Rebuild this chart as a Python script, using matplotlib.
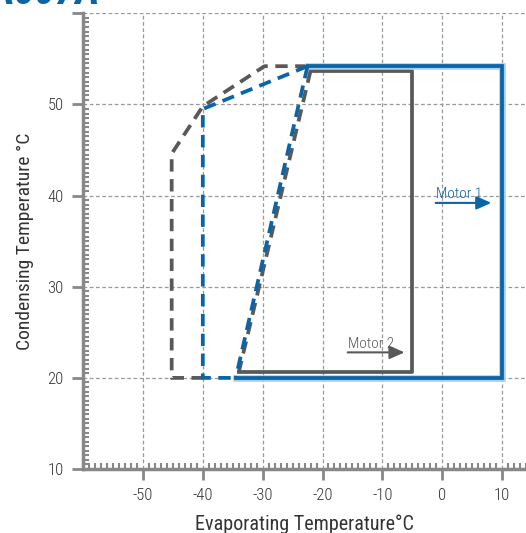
import matplotlib
matplotlib.use("Agg")
import matplotlib.pyplot as plt
from matplotlib.ticker import MultipleLocator

plt.rcParams['font.family'] = ['Roboto Condensed', 'Liberation Sans Narrow', 'DejaVu Sans']
plt.rcParams['font.stretch'] = 'condensed'
plt.rcParams['font.weight'] = 'light'
plt.rcParams['axes.unicode_minus'] = False

# envelope data (evaporating T, condensing T)
motor1_solid_x = [-34.5, 10, 10, -22.5]
motor1_solid_y = [20, 20, 54.2, 54.2]
motor1_dash_x = [-22.5, -34.5]
motor1_dash_y = [54.2, 20]
motor1_dash2_x = [-22.5, -40, -40, -34.5]
motor1_dash2_y = [54.2, 49.5, 20, 20]

motor2_solid_x = [-22, -5, -5, -34]
motor2_solid_y = [53.7, 53.7, 20.6, 20.6]
motor2_dash_x = [-22.5, -29.7, -40, -45.2, -45.2, -40]
motor2_dash_y = [54.2, 54.2, 49.8, 44.6, 20, 20]
motor2_dash2_x = [-22, -34]
motor2_dash2_y = [53.7, 20.6]

blue = '#0a64a8'
halo = '#a9cbe6'
gray = '#595959'
txt = '#333333'

fig = plt.figure(figsize=(5.26, 5.33), dpi=100)
ax = fig.add_axes([0.158, 0.12, 0.842, 0.855])
ax.set_xlim(-60, 14)
ax.set_ylim(10, 60)

ax.set_xticks([-50, -40, -30, -20, -10, 0, 10])
ax.set_yticks([10, 20, 30, 40, 50, 60])
ax.set_yticklabels(['10', '20', '30', '40', '50', ''])
ax.xaxis.set_minor_locator(MultipleLocator(1))
ax.yaxis.set_minor_locator(MultipleLocator(0.5))
ax.tick_params(which='major', direction='out', length=8, width=2, color='#888888',
               labelsize=12, labelcolor=txt, pad=6)
ax.tick_params(which='minor', direction='in', length=4, width=1.5, color='#888888')
ax.grid(True, which='major', linestyle=(0, (3, 2)), color='#999999', linewidth=0.9)

for s in ['top', 'right']:
    ax.spines[s].set_visible(False)
for s in ['left', 'bottom']:
    ax.spines[s].set_color('#888888')
    ax.spines[s].set_linewidth(2.5)

lw = 2.7
dash = (0, (3.3, 2))

# gray envelope (motor 2)
ax.plot(motor2_dash_x, motor2_dash_y, color=gray, lw=lw, ls=dash, zorder=3)
ax.plot(motor2_dash2_x, motor2_dash2_y, color=gray, lw=lw, ls=dash, zorder=3)
ax.plot(motor2_solid_x, motor2_solid_y, color=gray, lw=lw, zorder=3)

# blue envelope (motor 1)
ax.plot(motor1_solid_x, motor1_solid_y, color=halo, lw=lw + 2, zorder=4, solid_joinstyle='miter')
ax.plot(motor1_solid_x, motor1_solid_y, color=blue, lw=lw, zorder=5, solid_joinstyle='miter')
ax.plot(motor1_dash_x, motor1_dash_y, color=blue, lw=lw, ls=dash, zorder=5)
ax.plot(motor1_dash2_x, motor1_dash2_y, color=blue, lw=lw, ls=dash, zorder=5)

# labels with arrows
arrow = '-|>,head_length=0.9,head_width=0.4'
ax.annotate('', xy=(8.2, 39.2), xytext=(-1.1, 39.2),
            arrowprops=dict(arrowstyle=arrow, color=blue, lw=1.5, shrinkA=0, shrinkB=0), zorder=6)
ax.text(-1.1, 39.4, 'Motor 1', color=blue, fontsize=11, ha='left', va='bottom', zorder=6)
ax.annotate('', xy=(-6.3, 22.8), xytext=(-15.8, 22.8),
            arrowprops=dict(arrowstyle=arrow, color=gray, lw=1.5, shrinkA=0, shrinkB=0), zorder=6)
ax.text(-15.8, 23.0, 'Motor 2', color=gray, fontsize=11, ha='left', va='bottom', zorder=6)

ax.set_xlabel('Evaporating Temperature°C', fontsize=14.5, color=txt, labelpad=8)
ax.set_ylabel('Condensing Temperature °C', fontsize=14, color=txt, labelpad=10)

fig.text(0.19, 0.992, 'R507A', color=blue, fontsize=30, fontweight='bold',
         fontstyle='italic', ha='right', va='baseline')

fig.savefig('out.png', dpi=100)
